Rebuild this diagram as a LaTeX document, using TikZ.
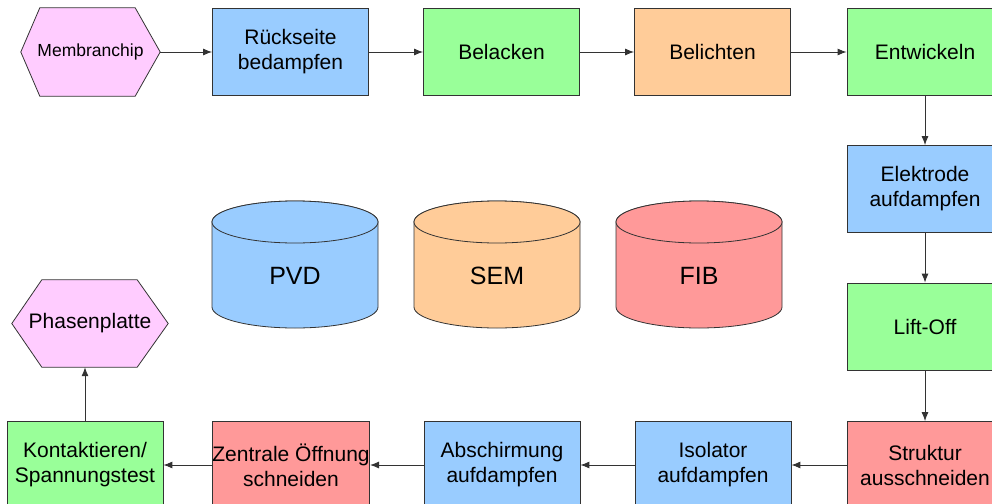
\documentclass[tikz,border=0pt]{standalone}
\usepackage{fontspec}
\setmainfont{Liberation Sans}
\usetikzlibrary{arrows.meta,backgrounds}
\definecolor{cpink}{HTML}{FFCCFF}
\definecolor{cblue}{HTML}{99CCFF}
\definecolor{cgreen}{HTML}{99FF99}
\definecolor{corange}{HTML}{FFCC99}
\definecolor{cred}{HTML}{FF9999}
\definecolor{cline}{HTML}{333333}

% cylinder: #1 centre x, #2 fill colour, #3 node name, #4 label
\newcommand{\drumat}[4]{%
  \filldraw[fill=#2, draw=cline, line width=0.8pt]
    (#1-83,-222) -- (#1-83,-307)
    arc[start angle=180, end angle=360, x radius=83, y radius=21]
    -- (#1+83,-222)
    arc[start angle=0, end angle=180, x radius=83, y radius=21] -- cycle;
  \filldraw[fill=#2, draw=cline, line width=0.8pt]
    (#1,-222) ellipse[x radius=83, y radius=21];
  \node[font=\fontsize{25}{30}\selectfont] (#3) at (#1,-276) {#4};
}

\begin{document}
\begin{tikzpicture}[x=1pt, y=1pt,
  stepbox/.style={draw=cline, line width=0.8pt, minimum width=156pt,
    minimum height=87pt, inner sep=0pt, align=center,
    font=\fontsize{21}{25}\selectfont},
  hexbox/.style={inner sep=0pt, align=center},
  hexline/.style={fill=cpink, draw=cline, line width=0.8pt},
  flow/.style={draw=cline, line width=0.9pt, -{Latex[length=9pt,width=7pt]}}]

\useasboundingbox (0,0) rectangle (992,-503);
\clip (0,0) rectangle (992,-503);

% top row
\node[hexbox, minimum width=139pt, minimum height=88pt,
      font=\fontsize{17.5}{21}\selectfont] (mem) at (90.5,-52) {Membranchip};
\node[stepbox, fill=cblue]   (rueck) at (290.5,-52) {Rückseite\\bedampfen};
\node[stepbox, fill=cgreen]  (lack)  at (501.5,-52) {Belacken};
\node[stepbox, fill=corange] (licht) at (712.5,-52) {Belichten};
\node[stepbox, fill=cgreen]  (entw)  at (925,-52)   {Entwickeln};

% right column
\node[stepbox, fill=cblue]  (elek) at (925,-189)   {Elektrode\\aufdampfen};
\node[stepbox, fill=cgreen] (lift) at (925,-326.5) {Lift-Off};
\node[stepbox, fill=cred]   (strk) at (925,-465)   {Struktur\\ausschneiden};

% bottom row
\node[stepbox, fill=cblue]  (isol) at (713,-465) {Isolator\\aufdampfen};
\node[stepbox, fill=cblue]  (absch) at (502,-465) {Abschirmung\\aufdampfen};
\node[stepbox, fill=cred]   (zentr) at (291,-465) {Zentrale Öffnung\\schneiden};
\node[stepbox, fill=cgreen] (kont) at (85,-465) {Kontaktieren/\\Spannungstest};

% end product
\node[hexbox, minimum width=156pt, minimum height=87pt,
      font=\fontsize{21}{25}\selectfont] (phase) at (90,-323.5) {Phasenplatte};

\begin{scope}[on background layer]
  \draw[hexline] (mem.west) -- ([xshift=19pt]mem.north west)
    -- ([xshift=-25pt]mem.north east) -- (mem.east)
    -- ([xshift=-25pt]mem.south east) -- ([xshift=19pt]mem.south west) -- cycle;
  \draw[hexline] (phase.west) -- ([xshift=30pt]phase.north west)
    -- ([xshift=-31pt]phase.north east) -- (phase.east)
    -- ([xshift=-31pt]phase.south east) -- ([xshift=30pt]phase.south west) -- cycle;
\end{scope}

% equipment
\drumat{295}{cblue}{pvd}{PVD}
\drumat{497}{corange}{sem}{SEM}
\drumat{699}{cred}{fib}{FIB}

% process flow
\draw[flow] (mem) -- (rueck);
\draw[flow] (rueck) -- (lack);
\draw[flow] (lack) -- (licht);
\draw[flow] (licht) -- (entw);
\draw[flow] (entw) -- (elek);
\draw[flow] (elek) -- (lift);
\draw[flow] (lift) -- (strk);
\draw[flow] (strk) -- (isol);
\draw[flow] (isol) -- (absch);
\draw[flow] (absch) -- (zentr);
\draw[flow] (zentr) -- (kont);
\draw[flow] (kont.north) -- (kont.north |- phase.south);
\end{tikzpicture}
\end{document}
